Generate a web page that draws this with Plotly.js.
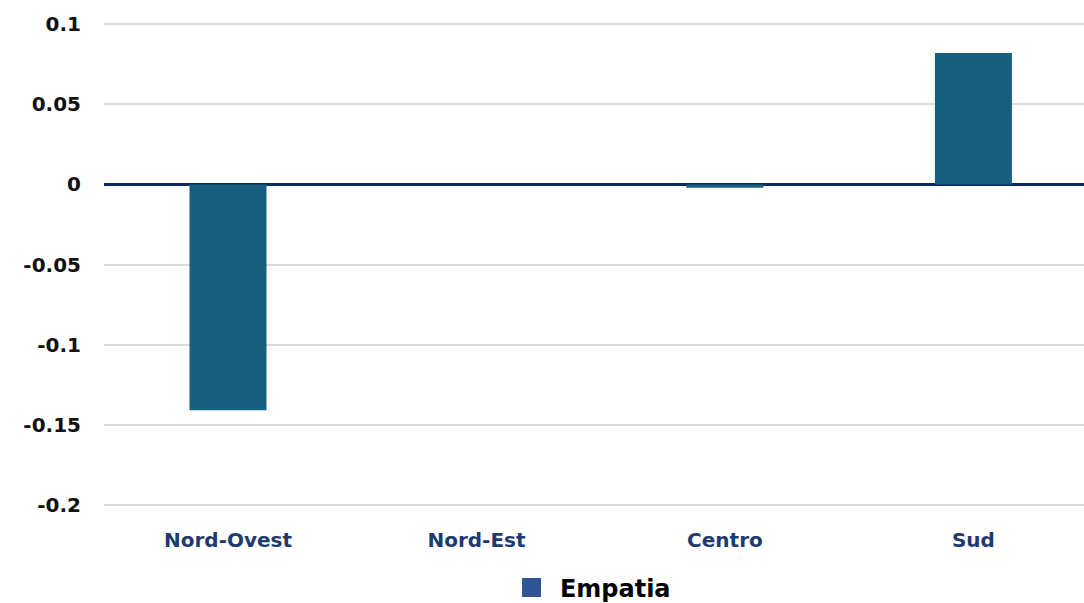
<!DOCTYPE html>
<html>
<head>
<meta charset="utf-8">
<script src="https://cdn.plot.ly/plotly-3.0.1.min.js"></script>
<style>html,body{margin:0;padding:0;background:#fff;}#chart{width:1084px;height:603px;}</style>
</head>
<body>
<div id="chart"></div>
<script>
const categories = ["Nord-Ovest", "Nord-Est", "Centro", "Sud"];
const empatia = [-0.141, 0.0, -0.002, 0.082];
const seriesName = "\u00a0Empatia";
const yTickVals = [-0.2, -0.15, -0.1, -0.05, 0, 0.05, 0.1];
const yTickText = ["-0.2", "-0.15", "-0.1", "-0.05", "0", "0.05", "0.1"];

const traces = [
  {
    type: "bar",
    x: categories,
    y: empatia,
    width: 0.31,
    marker: {color: "#175F80", line: {width: 0}},
    showlegend: false,
    hoverinfo: "skip"
  },
  {
    type: "scatter",
    mode: "markers",
    x: [null],
    y: [null],
    name: seriesName,
    marker: {symbol: "square", size: 16, color: "#2F5597", line: {color: "#2F5597", width: 3}},
    showlegend: true
  }
];

const layout = {
  width: 1084,
  height: 603,
  margin: {l: 104, r: 0, t: 23, b: 97, autoexpand: false},
  paper_bgcolor: "#ffffff",
  plot_bgcolor: "#ffffff",
  showlegend: true,
  font: {family: "DejaVu Sans", size: 20, color: "#111111"},
  xaxis: {
    type: "category",
    range: [-0.499, 3.445],
    showgrid: false,
    zeroline: false,
    showline: false,
    ticks: "",
    ticklabelstandoff: 20,
    tickfont: {family: "DejaVu Sans", size: 20, color: "#1F3A6E", weight: "bold"},
    fixedrange: true
  },
  yaxis: {
    range: [-0.2008, 0.1008],
    tickvals: yTickVals,
    ticktext: yTickText,
    showgrid: true,
    gridcolor: "#D9D9D9",
    gridwidth: 2,
    zeroline: true,
    zerolinecolor: "#0D2B63",
    zerolinewidth: 3,
    showline: false,
    ticks: "",
    ticklabelstandoff: 22,
    tickfont: {family: "DejaVu Sans", size: 20, color: "#111111", weight: "bold"},
    fixedrange: true
  },
  legend: {
    orientation: "h",
    x: 0.548,
    xanchor: "center",
    xref: "container",
    y: 0.025,
    yanchor: "middle",
    yref: "container",
    font: {family: "DejaVu Sans", size: 24, color: "#000000", weight: "bold"},
    bgcolor: "rgba(0,0,0,0)"
  }
};

Plotly.newPlot("chart", traces, layout, {displayModeBar: false, staticPlot: true});
</script>
</body>
</html>
